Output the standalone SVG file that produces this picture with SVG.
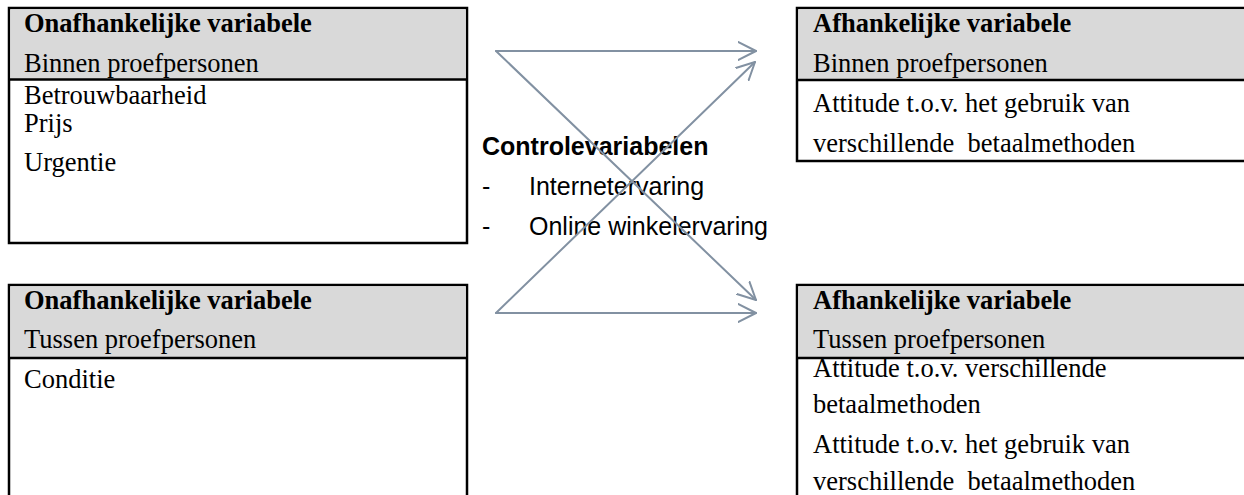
<svg xmlns="http://www.w3.org/2000/svg" width="1244" height="495" viewBox="0 0 1244 495">
<defs>
<style>
.box{fill:#ffffff;stroke:#000000;stroke-width:2.5}
.hdr{fill:#d9d9d9}
.div{stroke:#000000;stroke-width:2.5}
.t{font-family:"Liberation Serif","Times New Roman",serif;font-size:26.5px;fill:#000000;white-space:pre}
.b{font-weight:bold}
.a{font-family:"Liberation Sans",Arial,sans-serif;font-size:25px;fill:#000000;white-space:pre}
.ln{fill:none;stroke:#8291a2;stroke-width:2;stroke-linecap:round;stroke-linejoin:round}
</style>
<marker id="arr" viewBox="0 0 20 20" refX="18" refY="10" markerWidth="20" markerHeight="20" markerUnits="userSpaceOnUse" orient="auto">
<path d="M0,1 L18,10 L0,19" fill="none" stroke="#8291a2" stroke-width="2" stroke-linecap="round" stroke-linejoin="round"/>
</marker>
</defs>
<rect width="1244" height="495" fill="#ffffff"/>

<g id="onafh-binnen">
<rect class="box" x="9" y="8" width="458" height="235"/>
<rect class="hdr" x="10.25" y="9.25" width="455.5" height="70"/>
<line class="div" x1="9" y1="79.5" x2="467" y2="79.5"/>
<text class="t b" x="24" y="32">Onafhankelijke variabele</text>
<text class="t" x="24" y="72">Binnen proefpersonen</text>
<text class="t" x="24" y="104">Betrouwbaarheid</text>
<text class="t" x="24" y="132">Prijs</text>
<text class="t" x="24" y="171">Urgentie</text>
</g>

<g id="onafh-tussen">
<rect class="box" x="9" y="285" width="458" height="230"/>
<rect class="hdr" x="10.25" y="286.25" width="455.5" height="71.5"/>
<line class="div" x1="9" y1="358" x2="467" y2="358"/>
<text class="t b" x="24" y="309">Onafhankelijke variabele</text>
<text class="t" x="24" y="348">Tussen proefpersonen</text>
<text class="t" x="24" y="388">Conditie</text>
</g>

<g id="afh-binnen">
<rect class="box" x="797" y="8" width="460" height="153"/>
<rect class="hdr" x="798.25" y="9.25" width="457" height="70.5"/>
<line class="div" x1="797" y1="80" x2="1257" y2="80"/>
<text class="t b" x="813" y="32">Afhankelijke variabele</text>
<text class="t" x="813" y="72">Binnen proefpersonen</text>
<text class="t" x="813" y="112">Attitude t.o.v. het gebruik van</text>
<text class="t" x="813" y="152">verschillende  betaalmethoden</text>
</g>

<g id="afh-tussen">
<rect class="box" x="797" y="285" width="460" height="230"/>
<rect class="hdr" x="798.25" y="286.25" width="457" height="71.5"/>
<line class="div" x1="797" y1="358" x2="1257" y2="358"/>
<text class="t b" x="813" y="309">Afhankelijke variabele</text>
<text class="t" x="813" y="348">Tussen proefpersonen</text>
<text class="t" x="813" y="377">Attitude t.o.v. verschillende</text>
<text class="t" x="813" y="413">betaalmethoden</text>
<text class="t" x="813" y="453">Attitude t.o.v. het gebruik van</text>
<text class="t" x="813" y="490">verschillende  betaalmethoden</text>
</g>

<g id="controle">
<text class="a b" x="482" y="155">Controlevariabelen</text>
<text class="a" x="482" y="195">-</text>
<text class="a" x="529" y="195">Internetervaring</text>
<text class="a" x="482" y="235">-</text>
<text class="a" x="529" y="235">Online winkelervaring</text>
</g>

<g id="connectors">
<line class="ln" x1="496" y1="51" x2="756" y2="51" marker-end="url(#arr)"/>
<line class="ln" x1="496" y1="51" x2="756" y2="300" marker-end="url(#arr)"/>
<line class="ln" x1="496" y1="313" x2="756" y2="313" marker-end="url(#arr)"/>
<line class="ln" x1="496" y1="313" x2="755" y2="62" marker-end="url(#arr)"/>
</g>
</svg>
